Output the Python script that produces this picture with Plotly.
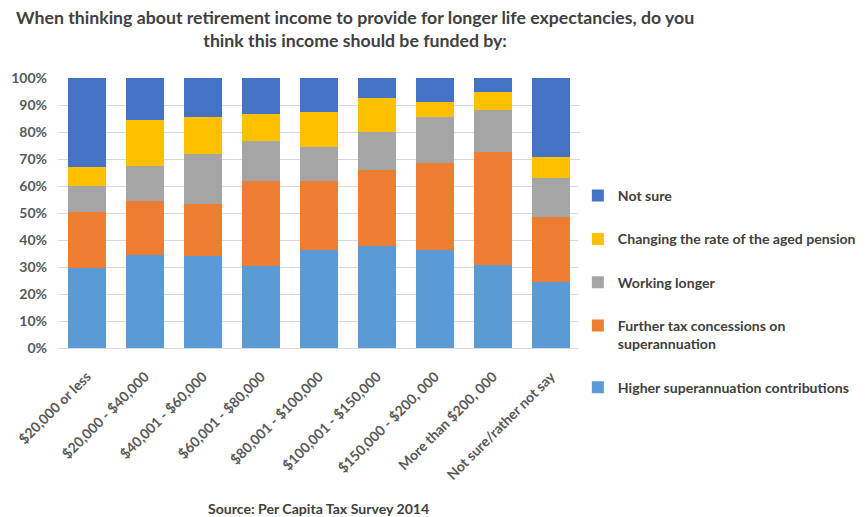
import plotly.graph_objects as go

categories = ["$20,000 or less", "$20,000 - $40,000", "$40,001 - $60,000", "$60,001 - $80,000",
              "$80,001 - $100,000", "$100,001 - $150,000", "$150,000 - $200, 000",
              "More than $200, 000", "Not sure/rather not say"]

higher_super = [29.5, 34.5, 34.0, 30.5, 36.2, 37.9, 36.4, 30.9, 24.3]
tax_concessions = [21.0, 20.0, 19.5, 31.4, 25.5, 27.9, 32.1, 41.7, 24.3]
working_longer = [9.5, 12.8, 18.5, 14.8, 12.7, 14.3, 17.1, 15.7, 14.5]
aged_pension = [7.0, 17.0, 13.5, 10.1, 12.9, 12.5, 5.5, 6.6, 7.6]
not_sure = [33.0, 15.8, 14.4, 13.2, 12.7, 7.4, 8.9, 5.1, 29.3]

series = [
    ("Higher superannuation contributions", higher_super, "#5B9BD5"),
    ("Further tax concessions on<br>superannuation", tax_concessions, "#ED7D31"),
    ("Working longer", working_longer, "#A5A5A5"),
    ("Changing the rate of the aged pension", aged_pension, "#FFC000"),
    ("Not sure", not_sure, "#4472C4"),
]

FONT = "Lato"
fig = go.Figure()
n = len(series)
for i, (name, vals, col) in enumerate(series):
    fig.add_trace(go.Bar(x=categories, y=vals, name=name, marker_color=col,
                         marker_line_width=0, legendgroup=str(i), legendrank=n - i))

fig.update_layout(
    barmode="stack",
    bargap=0.345,
    width=867, height=517,
    margin=dict(l=58, r=287, t=78, b=169, autoexpand=False),
    plot_bgcolor="white", paper_bgcolor="white",
    font=dict(family=FONT, size=12, color="#595959"),
    legend=dict(xref="container", yref="container", x=0.6665, xanchor="left",
                y=0.652, yanchor="top",
                traceorder="grouped", tracegroupgap=22, valign="top",
                itemwidth=30,
                font=dict(family=FONT, size=14.1, color="#404040", weight="bold")),
    showlegend=True,
)
fig.update_yaxes(range=[0, 100], dtick=10, ticksuffix="%", showgrid=True, gridcolor="#D9D9D9",
                 gridwidth=1, zeroline=False, showline=False, ticklabelstandoff=10,
                 tickfont=dict(family=FONT, size=14, color="#595959", weight="bold"))
fig.update_xaxes(tickangle=-45, showline=True, linecolor="#D9D9D9", linewidth=1,
                 ticklabelstandoff=14,
                 tickfont=dict(family=FONT, size=14, color="#595959", weight="bold"))

fig.add_annotation(text="<b>When thinking about retirement income to provide for longer life expectancies, do you<br>think this income should be funded by:</b>",
                   xref="paper", yref="paper", x=(355 - 58) / 522, y=1.183,
                   xanchor="center", yanchor="middle", showarrow=False,
                   font=dict(family=FONT, size=17.7, color="#404040"))

fig.add_annotation(text="<b>Source: Per Capita Tax Survey 2014</b>", xref="paper", yref="paper",
                   x=0.499, y=-0.593, xanchor="center", yanchor="middle", showarrow=False,
                   font=dict(family=FONT, size=14.1, color="#404040"))

fig.write_html("out.html")
